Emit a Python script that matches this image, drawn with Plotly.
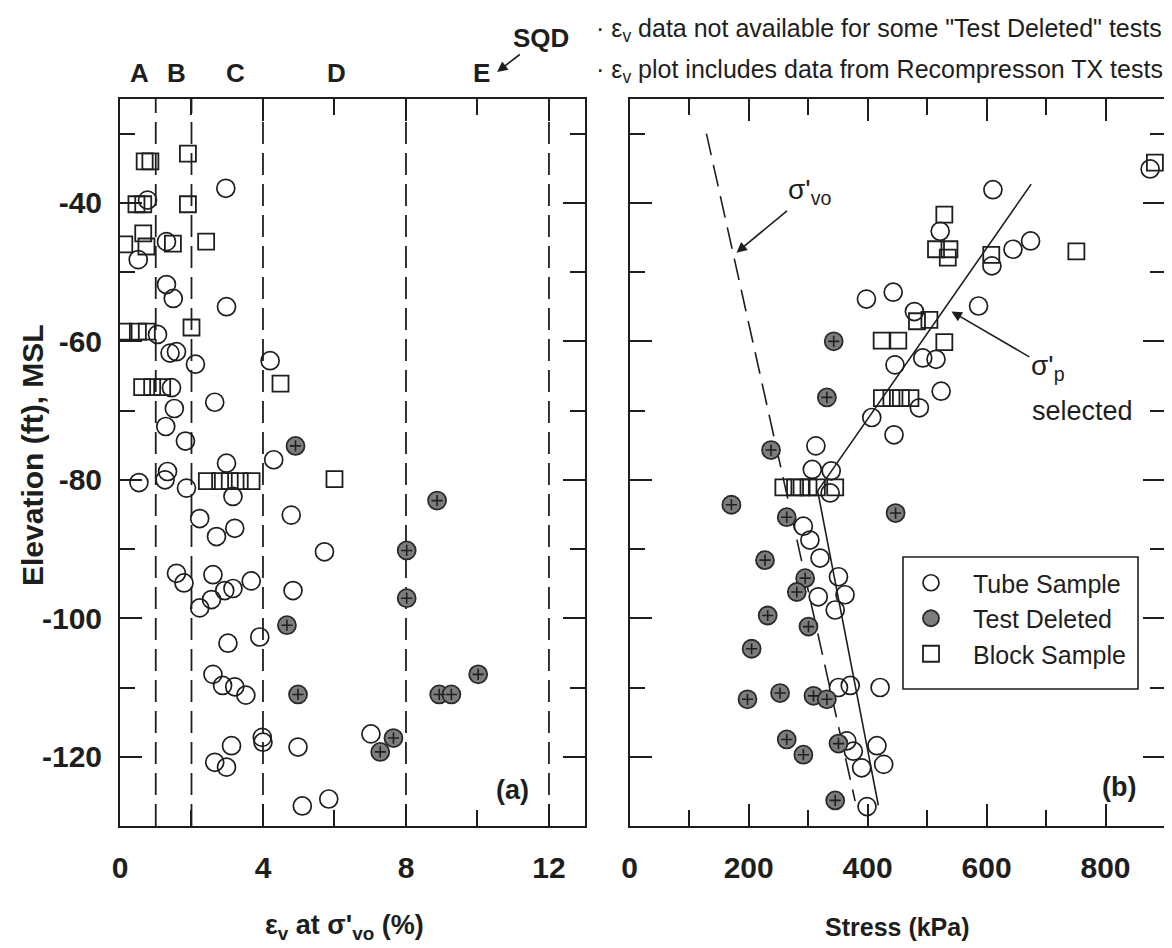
import plotly.graph_objects as go

FONT = "Liberation Sans, Arial, sans-serif"
INK = "#1e1e1e"
GRAY = "#7d7d7d"

# ---------------- Panel (a): volumetric strain at sigma'vo ----------------
tube_ev = [2.96, 0.77, 1.30, 0.51, 1.30, 1.49, 2.98, 1.05,
           1.40, 1.58, 2.11, 4.20, 1.44, 2.65, 1.52, 1.28, 1.83, 4.30, 2.98, 1.33,
           1.26, 0.53, 1.86, 3.16, 4.79, 2.23, 3.21, 2.70, 5.72,
           1.58, 1.79, 2.60, 2.23, 2.56, 2.93, 3.16, 3.67, 4.84, 3.91, 3.02,
           2.60, 2.87, 3.21, 3.52, 3.98, 4.00, 4.98, 3.12, 2.65, 2.98, 5.10, 5.84, 7.02]
tube_ev_elev = [-37.9, -39.6, -45.6, -48.2, -51.8, -53.8, -55.0, -59.0,
                -61.7, -61.5, -63.3, -62.8, -66.7, -68.8, -69.7, -72.3, -74.4, -77.1, -77.6, -78.8,
                -80.0, -80.4, -81.2, -82.4, -85.1, -85.6, -87.0, -88.2, -90.4,
                -93.5, -94.9, -93.7, -98.5, -97.3, -96.0, -95.7, -94.6, -96.0, -102.7, -103.6,
                -108.1, -109.7, -109.9, -111.1, -117.2, -117.9, -118.6, -118.4, -120.8, -121.5, -127.1, -126.1, -116.7]

td_ev = [4.91, 8.87, 8.02, 8.02, 4.67, 10.02, 8.93, 9.27, 4.98, 7.65, 7.28]
td_ev_elev = [-75.1, -83.0, -90.2, -97.1, -101.0, -108.1, -111.0, -111.0, -111.0, -117.3, -119.3]

blk_ev = [0.69, 0.85, 1.90, 0.46, 0.65, 1.90, 0.12, 0.65, 0.74, 1.48, 2.41,
          0.10, 0.50, 0.75, 2.00, 0.62, 0.90, 1.18, 4.49,
          2.43, 2.80, 3.07, 3.35, 3.68, 6.00]
blk_ev_elev = [-34.0, -34.0, -32.9, -40.2, -40.2, -40.2, -46.0, -44.4, -46.3, -45.9, -45.6,
               -58.6, -58.6, -58.6, -58.0, -66.6, -66.6, -66.6, -66.1,
               -80.2, -80.2, -80.2, -80.2, -80.2, -79.9]

sqd_bounds = [1, 2, 4, 8, 12]
sqd_names = ["A", "B", "C", "D", "E"]
sqd_name_x = [0.55, 1.58, 3.22, 6.06, 10.1]

# ---------------- Panel (b): stress profile ----------------
tube_s = [398, 443, 446, 875, 610.7, 522, 609, 644.4, 674, 586.5, 478.7, 492.7, 515,
          523.6, 487, 444.4, 407, 313, 307, 338.8, 337, 292, 303, 320, 351, 362,
          345.5, 317, 351, 370.8, 421, 365, 376, 390, 415.7, 427, 399]
tube_s_elev = [-53.9, -52.9, -63.4, -35.1, -38.1, -44.1, -49.1, -46.7, -45.5, -54.9, -55.7, -62.4, -62.6,
               -67.2, -69.6, -73.5, -71.0, -75.1, -78.5, -78.7, -81.9, -86.7, -88.7, -91.3, -94.0, -96.6,
               -98.8, -96.9, -110.0, -109.7, -110.0, -117.7, -119.2, -121.6, -118.4, -121.1, -127.2]

td_s = [343, 447, 331.5, 237.6, 171, 264, 227.5, 295, 281, 232, 300.6, 205,
        198, 252.8, 309, 331.5, 264, 292, 351, 345.5]
td_s_elev = [-60.0, -84.8, -68.1, -75.7, -83.6, -85.4, -91.6, -94.2, -96.2, -99.6, -101.2, -104.4,
             -111.7, -110.8, -111.2, -111.7, -117.5, -119.7, -118.1, -126.3]

blk_s = [883, 529, 515, 537.6, 534.8, 607.9, 751, 423.6, 451.6, 529, 483, 503.9,
         424, 440, 456, 472, 258.4, 278, 289, 300.6, 314.6, 345.5]
blk_s_elev = [-34.2, -41.7, -46.7, -46.7, -47.9, -47.5, -47.0, -59.9, -59.9, -60.1, -57.1, -56.9,
              -68.2, -68.2, -68.2, -68.2, -81.1, -81.1, -81.1, -81.1, -81.1, -81.1]

svo_x = [129, 379]
svo_elev = [-30.0, -126.4]
sp_x = [418, 316, 675]
sp_elev = [-127.0, -81.6, -37.3]

# tick labels
elev_ticks = [-120, -100, -80, -60, -40]
elev_text = ["-120", "-100", "-80", "-60", "-40"]
ev_ticks = [0, 4, 8, 12]
stress_ticks = [0, 200, 400, 600, 800]

# annotation anchors (data units)
svo_label = (303, -38.4)
svo_head = (179.5, -47.2)
sp_label = (703, -63.8)
sp_head = (541, -55.7)
sel_label = (762, -70.1)

# ---------------- figure geometry ----------------
W, H = 1172, 948
ML, MR, MT, MB = 112, 15, 91, 130
PW, PH = W - ML - MR, H - MT - MB


def px_x(p):
    return (p - ML) / PW


def px_y(p):
    return 1 - (p - MT) / PH


circle_style = dict(symbol="circle-open", size=18, color=INK, line=dict(width=1.7, color=INK))
td_style = dict(symbol="circle", size=18, color=GRAY, line=dict(width=1.8, color="#2a2a2a"))
plus_style = dict(symbol="cross-thin-open", size=8, color="#202020", line=dict(width=1.6, color="#202020"))
sq_style = dict(symbol="square-open", size=16, color=INK, line=dict(width=1.8, color=INK))

fig = go.Figure()

# zone boundary dashed lines in panel (a)
for b in sqd_bounds:
    fig.add_trace(go.Scatter(x=[b, b], y=[-130, -25], mode="lines", xaxis="x", yaxis="y",
                             line=dict(color=INK, width=1.8, dash="22px,9px"),
                             showlegend=False, hoverinfo="skip"))

fig.add_trace(go.Scatter(x=tube_ev, y=tube_ev_elev, mode="markers", xaxis="x", yaxis="y",
                         marker=circle_style, showlegend=False))
fig.add_trace(go.Scatter(x=td_ev, y=td_ev_elev, mode="markers", xaxis="x", yaxis="y",
                         marker=td_style, showlegend=False))
fig.add_trace(go.Scatter(x=td_ev, y=td_ev_elev, mode="markers", xaxis="x", yaxis="y",
                         marker=plus_style, showlegend=False))
fig.add_trace(go.Scatter(x=blk_ev, y=blk_ev_elev, mode="markers", xaxis="x", yaxis="y",
                         marker=sq_style, showlegend=False))

# panel (b) lines
fig.add_trace(go.Scatter(x=svo_x, y=svo_elev, mode="lines", xaxis="x2", yaxis="y2",
                         line=dict(color=INK, width=1.6, dash="22px,10px"),
                         showlegend=False, hoverinfo="skip"))
fig.add_trace(go.Scatter(x=sp_x, y=sp_elev, mode="lines", xaxis="x2", yaxis="y2",
                         line=dict(color=INK, width=1.6), showlegend=False, hoverinfo="skip"))

fig.add_trace(go.Scatter(x=tube_s, y=tube_s_elev, mode="markers", xaxis="x2", yaxis="y2",
                         marker=circle_style, name="Tube Sample"))
fig.add_trace(go.Scatter(x=td_s, y=td_s_elev, mode="markers", xaxis="x2", yaxis="y2",
                         marker=td_style, name="Test Deleted"))
fig.add_trace(go.Scatter(x=td_s, y=td_s_elev, mode="markers", xaxis="x2", yaxis="y2",
                         marker=plus_style, showlegend=False))
fig.add_trace(go.Scatter(x=blk_s, y=blk_s_elev, mode="markers", xaxis="x2", yaxis="y2",
                         marker=sq_style, name="Block Sample"))

tickfont = dict(family=FONT, size=30, color=INK, weight="bold")
axis_common = dict(showline=True, linewidth=2, linecolor=INK, mirror="ticks", ticks="inside",
                   tickwidth=2, tickcolor=INK, ticklen=22, showgrid=False, zeroline=False,
                   tickfont=tickfont)

split_a = px_x(576.7)
split_b = px_x(621.7)

fig.update_layout(
    width=W, height=H,
    margin=dict(l=ML, r=MR, t=MT, b=MB),
    paper_bgcolor="white", plot_bgcolor="white",
    font=dict(family=FONT, color=INK),
    xaxis=dict(domain=[0, split_a], range=[0, 13], anchor="y",
               tickvals=ev_ticks, ticktext=[str(v) for v in ev_ticks], ticklabelstandoff=14,
               minor=dict(tickvals=[2, 6, 10], ticks="inside", ticklen=16, tickwidth=2, tickcolor=INK),
               **axis_common),
    yaxis=dict(domain=[0, 1], range=[-130, -25], anchor="x",
               tickvals=elev_ticks, ticktext=elev_text, ticklabelstandoff=10,
               minor=dict(tickvals=[-130, -110, -90, -70, -50, -30], ticks="inside", ticklen=15,
                          tickwidth=2, tickcolor=INK),
               **axis_common),
    xaxis2=dict(domain=[split_b, 1], range=[0, 900], anchor="y2",
                tickvals=stress_ticks, ticktext=[str(v) for v in stress_ticks], ticklabelstandoff=14,
                minor=dict(tickvals=[100, 300, 500, 700], ticks="inside", ticklen=16, tickwidth=2,
                           tickcolor=INK),
                **axis_common),
    yaxis2=dict(domain=[0, 1], range=[-130, -25], anchor="x2", showticklabels=False,
                tickvals=elev_ticks,
                minor=dict(tickvals=[-130, -110, -90, -70, -50, -30], ticks="inside", ticklen=15,
                           tickwidth=2, tickcolor=INK),
                **axis_common),
    legend=dict(x=px_x(881), y=px_y(552), xanchor="left", yanchor="top",
                bgcolor="rgba(0,0,0,0)", borderwidth=0,
                font=dict(family=FONT, size=25, color=INK), itemwidth=74,
                tracegroupgap=0),
    showlegend=True,
    shapes=[dict(type="rect", xref="paper", yref="paper",
                 x0=px_x(895), x1=px_x(1130), y0=px_y(549), y1=px_y(681),
                 line=dict(color=INK, width=1.6), fillcolor="white", layer="above")],
)

ann = []
# zone letters
for nm, xv in zip(sqd_names, sqd_name_x):
    ann.append(dict(x=xv, y=px_y(65), xref="x", yref="paper", text=nm, showarrow=False,
                    font=dict(family=FONT, size=26, color=INK, weight="bold"),
                    xanchor="center", yanchor="middle"))
# SQD label with arrow pointing at E
ann.append(dict(x=10.55, y=px_y(64), xref="x", yref="paper", text="SQD", showarrow=True,
                ax=44, ay=-34, arrowhead=2, arrowsize=1.3, arrowwidth=1.6, arrowcolor=INK,
                font=dict(family=FONT, size=26, color=INK, weight="bold")))

# notes at top right
ann.append(dict(x=px_x(586), y=px_y(22), xref="paper", yref="paper",
                text="· ε<sub>v</sub> data not available for some \"Test Deleted\" tests",
                showarrow=False, xanchor="left", yanchor="middle",
                font=dict(family=FONT, size=25, color=INK)))
ann.append(dict(x=px_x(586), y=px_y(63), xref="paper", yref="paper",
                text="· ε<sub>v</sub> plot includes data from Recompresson TX tests",
                showarrow=False, xanchor="left", yanchor="middle",
                font=dict(family=FONT, size=25, color=INK)))

# axis titles
ann.append(dict(x=px_x(24), y=px_y(447), xref="paper", yref="paper", text="Elevation (ft), MSL",
                textangle=-90, showarrow=False, xanchor="center", yanchor="middle",
                font=dict(family=FONT, size=30, color=INK, weight="bold")))
ann.append(dict(x=px_x(336), y=px_y(919), xref="paper", yref="paper",
                text="ε<sub>v</sub> at σ'<sub>vo</sub> (%)", showarrow=False,
                xanchor="center", yanchor="middle",
                font=dict(family=FONT, size=27, color=INK, weight="bold")))
ann.append(dict(x=px_x(889), y=px_y(919), xref="paper", yref="paper",
                text="Stress (kPa)", showarrow=False, xanchor="center", yanchor="middle",
                font=dict(family=FONT, size=25, color=INK, weight="bold")))

# panel tags
ann.append(dict(x=10.97, y=-124.8, xref="x", yref="y", text="(a)", showarrow=False,
                font=dict(family=FONT, size=27, color=INK, weight="bold")))
ann.append(dict(x=822, y=-124.3, xref="x2", yref="y2", text="(b)", showarrow=False,
                font=dict(family=FONT, size=27, color=INK, weight="bold")))

# sigma'vo label with arrow
ann.append(dict(x=svo_head[0], y=svo_head[1], xref="x2", yref="y2",
                ax=svo_label[0], ay=svo_label[1], axref="x2", ayref="y2",
                text="σ'<sub>vo</sub>", showarrow=True, arrowhead=2, arrowsize=1.3,
                arrowwidth=1.6, arrowcolor=INK, font=dict(family=FONT, size=28, color=INK)))
# sigma'p label with arrow
ann.append(dict(x=sp_head[0], y=sp_head[1], xref="x2", yref="y2",
                ax=sp_label[0], ay=sp_label[1], axref="x2", ayref="y2",
                text="σ'<sub>p</sub>", showarrow=True, arrowhead=2, arrowsize=1.3,
                arrowwidth=1.6, arrowcolor=INK, font=dict(family=FONT, size=28, color=INK)))
ann.append(dict(x=sel_label[0], y=sel_label[1], xref="x2", yref="y2",
                text="selected", showarrow=False,
                font=dict(family=FONT, size=27, color=INK)))

fig.update_layout(annotations=ann)

fig.write_html("out.html")
